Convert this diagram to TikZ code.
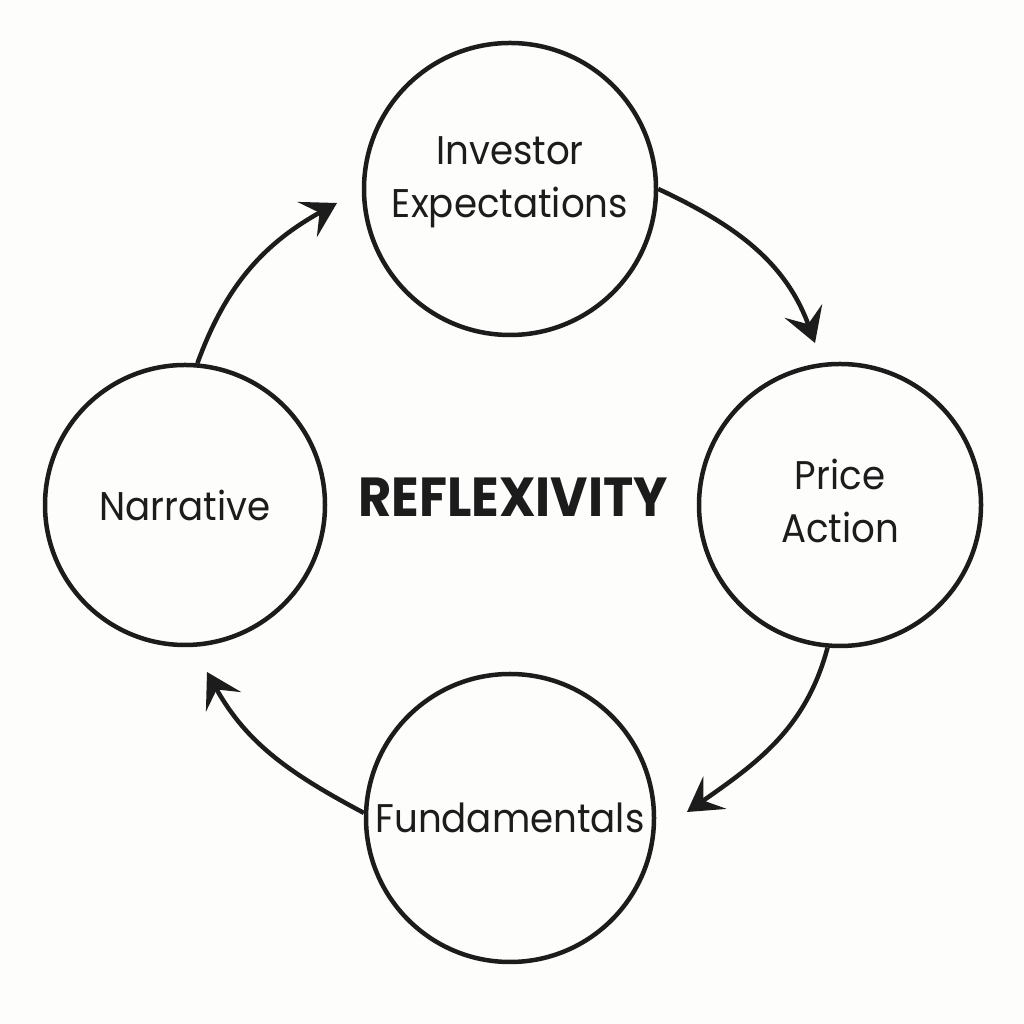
\documentclass[tikz,border=0pt]{standalone}
\usepackage{fontspec}
\setmainfont{Poppins}[FakeStretch=0.93]
\usetikzlibrary{arrows.meta}
\definecolor{ink}{HTML}{1C1C1C}
\definecolor{bg}{HTML}{FDFDFB}
\tikzset{
  stage/.style={circle, draw=ink, line width=4.5pt, inner sep=0pt},
  stagetext/.style={text=ink, align=center, inner sep=0pt, font=\fontsize{40}{53}\selectfont},
  flow/.style={draw=ink, line width=4.5pt, -{Stealth[length=34pt, width=40pt, inset=14pt]}},
}
\begin{document}
\begin{tikzpicture}[x=1pt, y=1pt]
  \fill[bg] (0,0) rectangle (1024,1024);
  \useasboundingbox (0,0) rectangle (1024,1024);
  \node[stage, minimum size=292pt] (inv) at (510,835) {};
  \node[stage, minimum size=282pt] (pa) at (840,519) {};
  \node[stage, minimum size=280pt] (nar) at (185,519) {};
  \node[stage, minimum size=288pt] (fun) at (510,206) {};
  \node[stagetext] (invt) at ([yshift=7pt]inv.center) {Investor\\Expectations};
  \node[stagetext] (pat) at ([yshift=4pt]pa.center) {Price\\Action};
  \node[stagetext] (nart) at (nar.center) {Narrative};
  \node[stagetext] (funt) at (fun.center) {Fundamentals};
  \node[text=ink, inner sep=0pt, font=\fontsize{55}{60}\selectfont\bfseries] (ref) at (513,527) {REFLEXIVITY};
  \coordinate (t1) at (815,681);
  \coordinate (t2) at (687,212);
  \coordinate (t3) at (207,352);
  \coordinate (t4) at (337,821);
  \draw[flow] (inv.east) to[out=-25, in=110] (t1);
  \draw[flow] (pa.-95) to[out=-105, in=35] (t2);
  \draw[flow] (fun.178) to[out=152, in=-61] (t3);
  \draw[flow] (nar.85) to[out=70, in=-151] (t4);
\end{tikzpicture}
\end{document}
